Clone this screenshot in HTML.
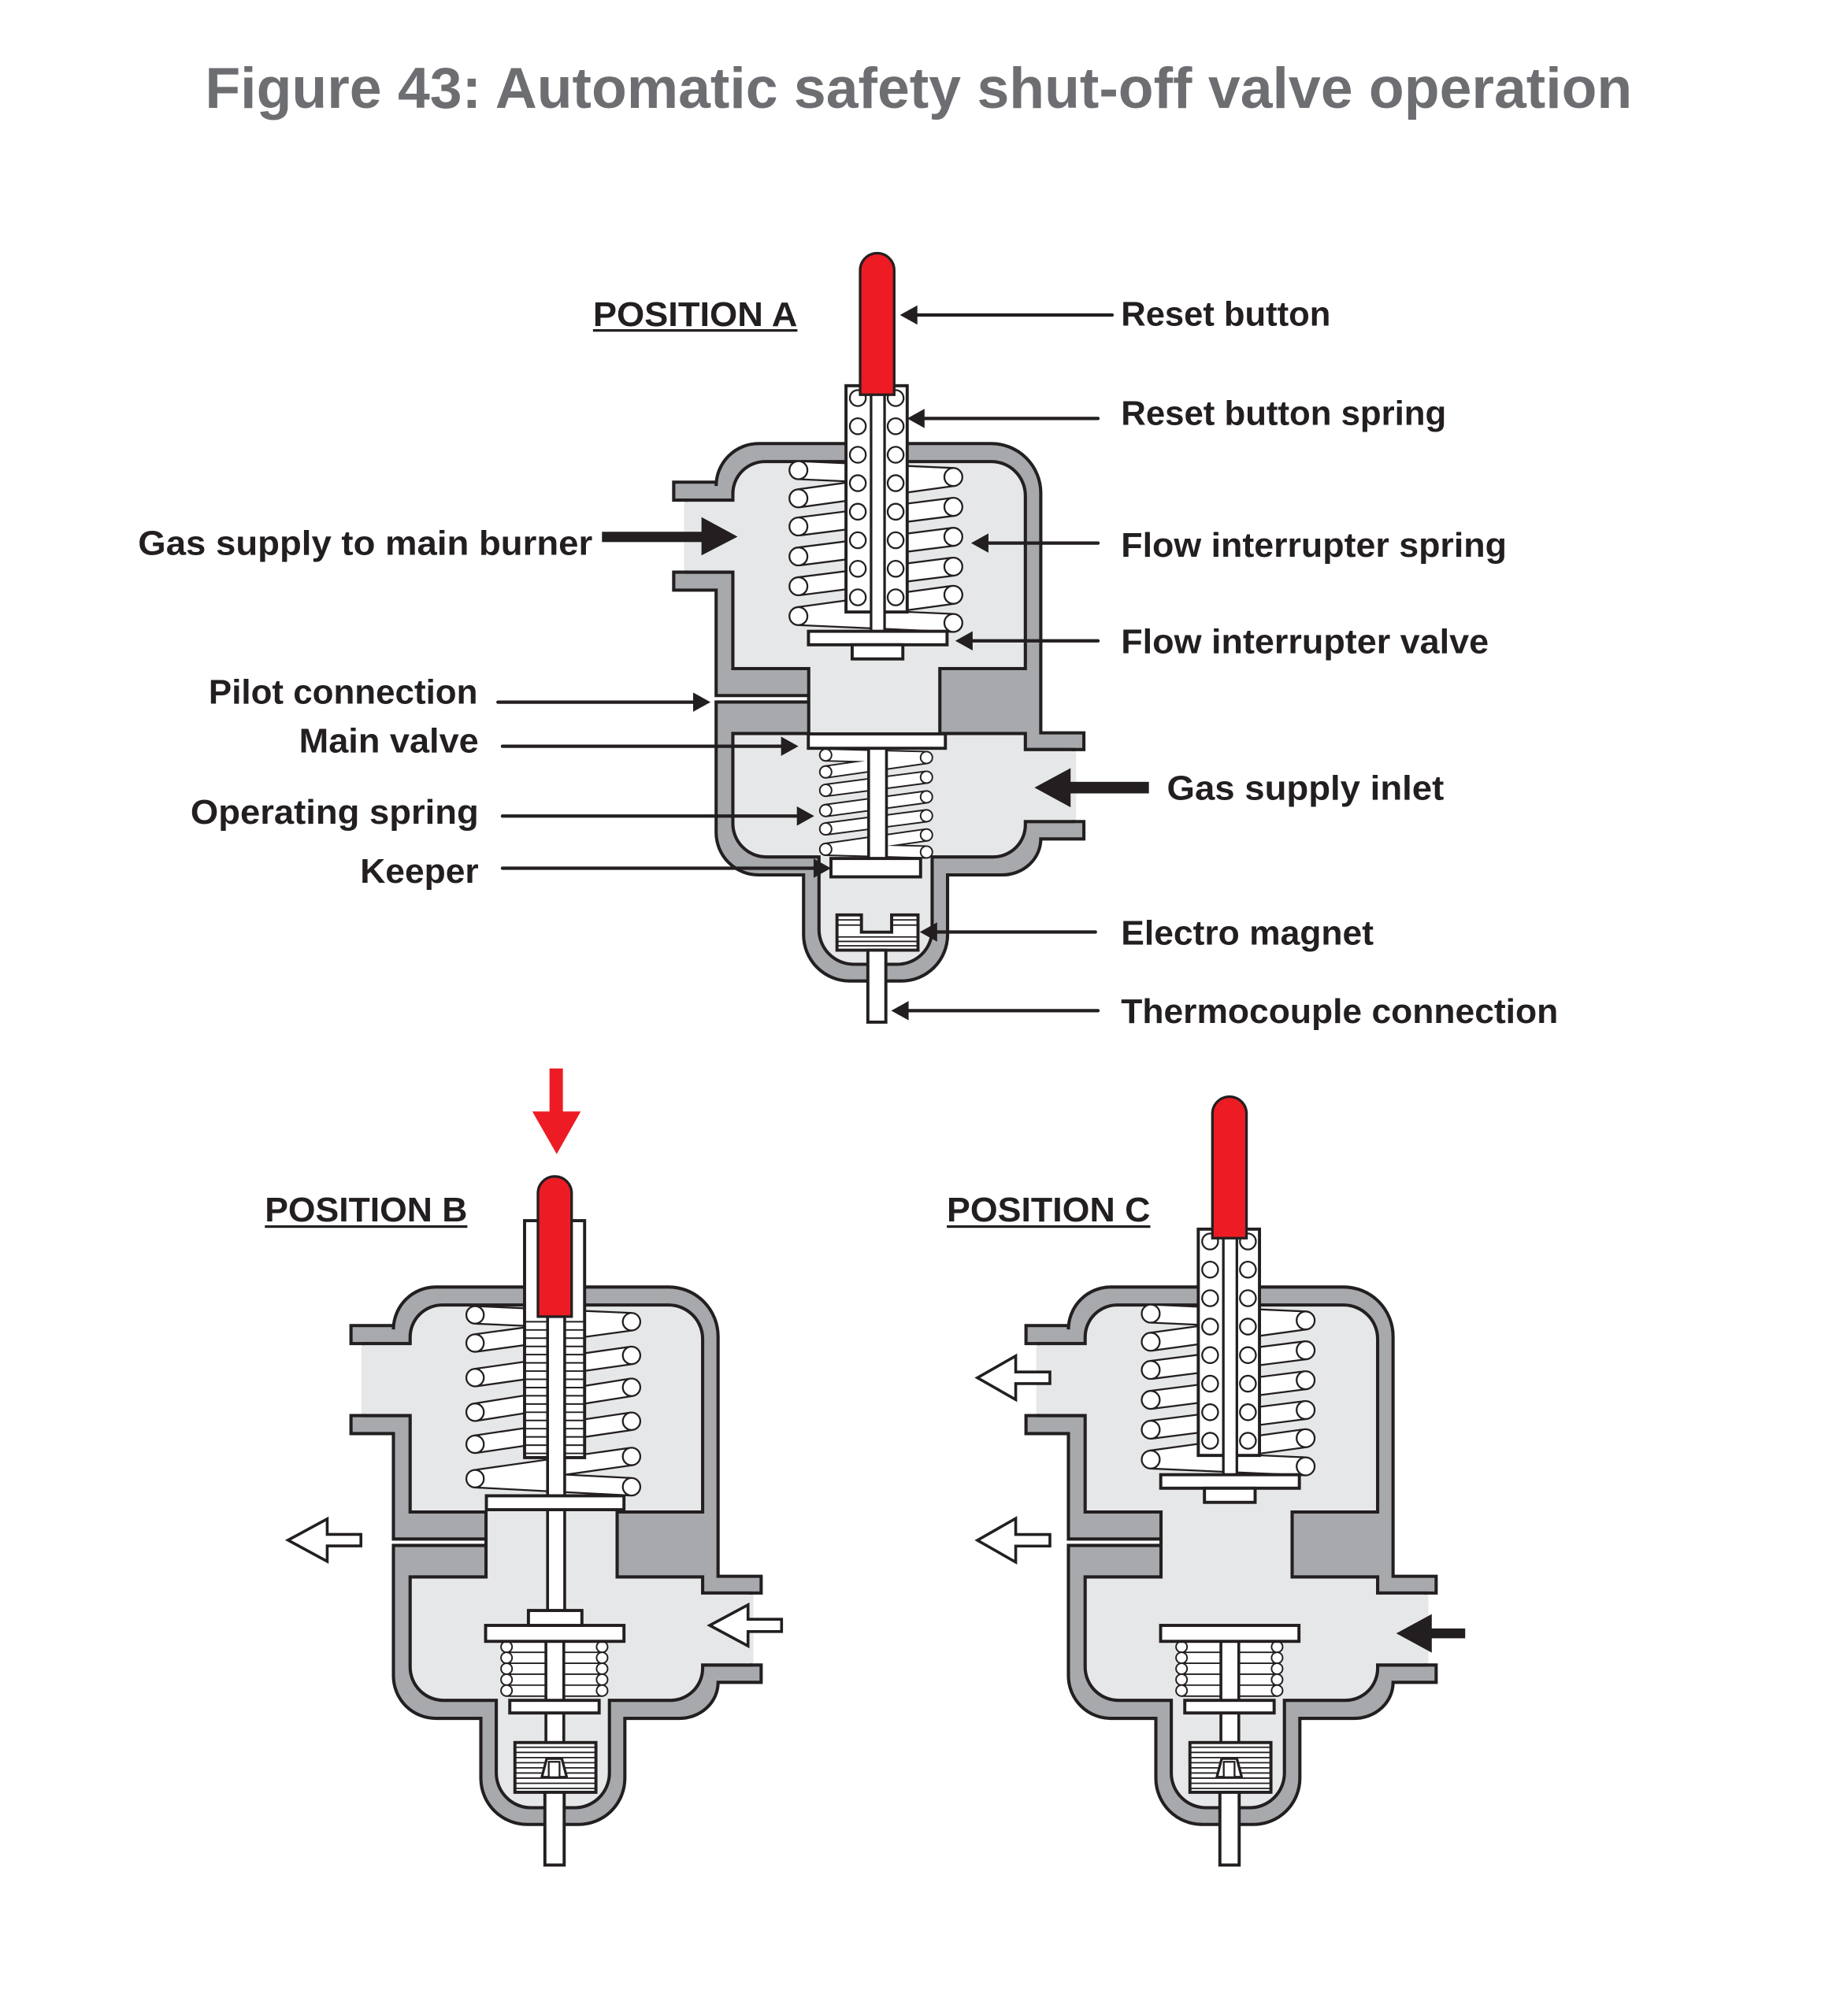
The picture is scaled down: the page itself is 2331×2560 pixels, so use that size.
<!DOCTYPE html>
<html><head><meta charset="utf-8"><style>
html,body{margin:0;padding:0;background:#fff;}
svg{display:block;}
text{font-family:"Liberation Sans",Arial,Helvetica,sans-serif;font-weight:bold;}
</style></head><body>
<svg xmlns="http://www.w3.org/2000/svg" xmlns:xlink="http://www.w3.org/1999/xlink" width="2331" height="2560" viewBox="0 0 1428 1568" preserveAspectRatio="none">
<defs>
<g id="body">
<path d="M524,375 H557 V378 A33,33 0 0 1 590,345 H771 A38.5,38.5 0 0 1 809.5,383.5 V570 H843 V583 H797.5 V639 H843 V652.5 H809.5 A30,28 0 0 1 779.5,680.5 H737 V727 A36,36 0 0 1 701,763 H661 A36,36 0 0 1 625,727 V680.5 H590 A33,33 0 0 1 557,647.5 V546 H629 V541 H557 V459 H524 V445 H570 V389 H524 Z" fill="#a7a9ac" stroke="#231f20" stroke-width="2.5"/>
<path d="M534,389 H570 V384 A25,25 0 0 1 595,359 H771 A26.5,26.5 0 0 1 797.5,385.5 V520 H731 V570.5 H797.5 V583 H835 V639 H797.5 V641.5 A25,25 0 0 1 772.5,666.5 H725 V723 A27,27 0 0 1 698,750 H664 A27,27 0 0 1 637,723 V666.5 H596 A26,26 0 0 1 570,640.5 V570.5 H629 V520 H570 V445 H534 Z" fill="#e6e7e8" stroke="#231f20" stroke-width="2.5"/>
<rect x="532" y="390.3" width="4" height="53.4" fill="#e6e7e8"/>
<rect x="833" y="584.3" width="4" height="53.4" fill="#e6e7e8"/>
</g>

<g id="upA">
<path d="M621,365.7L741.5,371 M621,387.6L741.5,371 M621,409.5L741.5,394.2 M621,432.8L741.5,417.5 M621,456L741.5,440.7 M621,479.2L741.5,462.6 M621,479.2L741.5,484.5" stroke="#231f20" stroke-width="15.4" fill="none"/>
<path d="M621,365.7L741.5,371 M621,387.6L741.5,371 M621,409.5L741.5,394.2 M621,432.8L741.5,417.5 M621,456L741.5,440.7 M621,479.2L741.5,462.6 M621,479.2L741.5,484.5" stroke="#fff" stroke-width="12.6" fill="none"/>
<g fill="#fff" stroke="#231f20" stroke-width="1.4">
<circle cx="621" cy="365.7" r="7"/><circle cx="621" cy="387.6" r="7"/><circle cx="621" cy="409.5" r="7"/><circle cx="621" cy="432.8" r="7"/><circle cx="621" cy="456" r="7"/><circle cx="621" cy="479.2" r="7"/>
<circle cx="741.5" cy="371" r="7"/><circle cx="741.5" cy="394.2" r="7"/><circle cx="741.5" cy="417.5" r="7"/><circle cx="741.5" cy="440.7" r="7"/><circle cx="741.5" cy="462.6" r="7"/><circle cx="741.5" cy="484.5" r="7"/>
</g>
<rect x="658" y="300" width="47.6" height="176" fill="#fff" stroke="#231f20" stroke-width="2.4"/>
<g fill="#fff" stroke="#231f20" stroke-width="1.4">
<circle cx="667.2" cy="309.6" r="6.2"/><circle cx="667.2" cy="331.5" r="6.2"/><circle cx="667.2" cy="353.7" r="6.2"/><circle cx="667.2" cy="375.8" r="6.2"/><circle cx="667.2" cy="398" r="6.2"/><circle cx="667.2" cy="420.2" r="6.2"/><circle cx="667.2" cy="442.4" r="6.2"/><circle cx="667.2" cy="464.6" r="6.2"/>
<circle cx="696.6" cy="309.6" r="6.2"/><circle cx="696.6" cy="331.5" r="6.2"/><circle cx="696.6" cy="353.7" r="6.2"/><circle cx="696.6" cy="375.8" r="6.2"/><circle cx="696.6" cy="398" r="6.2"/><circle cx="696.6" cy="420.2" r="6.2"/><circle cx="696.6" cy="442.4" r="6.2"/><circle cx="696.6" cy="464.6" r="6.2"/>
</g>
<rect x="677.5" y="300" width="10.5" height="191" fill="#fff" stroke="#231f20" stroke-width="2"/>
<path d="M669,307 V210.2 A13.25,13.25 0 0 1 695.5,210.2 V307 Z" fill="#ed1c24" stroke="#231f20" stroke-width="2"/>
<rect x="628.8" y="491" width="107.8" height="10.5" fill="#fff" stroke="#231f20" stroke-width="2.4"/>
<rect x="662.8" y="501.5" width="39.4" height="11" fill="#fff" stroke="#231f20" stroke-width="2.4"/>
</g>

<g id="lowOpen">
<path d="M645,624.9H719.3 M645,633.4H719.3 M645,641.9H719.3 M645,650.4H719.3 M645,658.9H719.3" stroke="#231f20" stroke-width="9.8" fill="none"/>
<path d="M645,624.9H719.3 M645,633.4H719.3 M645,641.9H719.3 M645,650.4H719.3 M645,658.9H719.3" stroke="#fff" stroke-width="7.4" fill="none"/>
<g fill="#fff" stroke="#231f20" stroke-width="1.2">
<circle cx="645" cy="624.9" r="4.3"/><circle cx="645" cy="633.4" r="4.3"/><circle cx="645" cy="641.9" r="4.3"/><circle cx="645" cy="650.4" r="4.3"/><circle cx="645" cy="658.9" r="4.3"/>
<circle cx="719.3" cy="624.9" r="4.3"/><circle cx="719.3" cy="633.4" r="4.3"/><circle cx="719.3" cy="641.9" r="4.3"/><circle cx="719.3" cy="650.4" r="4.3"/><circle cx="719.3" cy="658.9" r="4.3"/>
</g>
<rect x="675.6" y="620.6" width="13.9" height="79" fill="#fff" stroke="#231f20" stroke-width="2.2"/>
<rect x="628.7" y="608.2" width="107.6" height="12.4" fill="#fff" stroke="#231f20" stroke-width="2.4"/>
<rect x="647.5" y="666.5" width="69.5" height="9.8" fill="#fff" stroke="#231f20" stroke-width="2.4"/>
<rect x="651.5" y="699.3" width="63" height="38.7" fill="#fff" stroke="#231f20" stroke-width="2.4"/>
<path d="M651.5,703H714.5 M651.5,707H714.5 M651.5,711H714.5 M651.5,715H714.5 M651.5,719H714.5 M651.5,723H714.5 M651.5,727H714.5 M651.5,731H714.5 M651.5,735H714.5" stroke="#231f20" stroke-width="1.1"/>
<polygon points="672.4,726.3 676.2,711.8 688,711.8 691.8,726.3" fill="#fff" stroke="#231f20" stroke-width="2"/>
<rect x="677.8" y="714.3" width="8.4" height="12" fill="#fff" stroke="#231f20" stroke-width="1.4"/>
<rect x="674.8" y="738" width="15" height="56.6" fill="#fff" stroke="#231f20" stroke-width="2.4"/>
</g>
</defs>

<!-- Title -->
<text x="159.5" y="84" font-size="45" fill="#6d6e71" textLength="1110" lengthAdjust="spacingAndGlyphs">Figure 43: Automatic safety shut-off valve operation</text>

<!-- ================= POSITION A ================= -->
<use href="#body" xlink:href="#body"/>
<use href="#upA" xlink:href="#upA"/>
<!-- lower closed parts -->
<path d="M642.2,587.2L720.6,589.2 M642.2,600.4L720.6,589.2 M642.2,614.7L720.6,604.5 M642.2,630.4L720.6,619.8 M642.2,644.7L720.6,634.5 M642.2,660.6L720.6,649.4 M642.2,660.6L720.6,662.7" stroke="#231f20" stroke-width="10.4" fill="none"/>
<path d="M642.2,587.2L720.6,589.2 M642.2,600.4L720.6,589.2 M642.2,614.7L720.6,604.5 M642.2,630.4L720.6,619.8 M642.2,644.7L720.6,634.5 M642.2,660.6L720.6,649.4 M642.2,660.6L720.6,662.7" stroke="#fff" stroke-width="8" fill="none"/>
<g fill="#fff" stroke="#231f20" stroke-width="1.2">
<circle cx="642.2" cy="587.2" r="4.6"/><circle cx="642.2" cy="600.4" r="4.6"/><circle cx="642.2" cy="614.7" r="4.6"/><circle cx="642.2" cy="630.4" r="4.6"/><circle cx="642.2" cy="644.7" r="4.6"/><circle cx="642.2" cy="660.6" r="4.6"/>
<circle cx="720.6" cy="589.2" r="4.6"/><circle cx="720.6" cy="604.5" r="4.6"/><circle cx="720.6" cy="619.8" r="4.6"/><circle cx="720.6" cy="634.5" r="4.6"/><circle cx="720.6" cy="649.4" r="4.6"/><circle cx="720.6" cy="662.7" r="4.6"/>
</g>
<rect x="675.6" y="582" width="13.9" height="86" fill="#fff" stroke="#231f20" stroke-width="2.2"/>
<rect x="628.7" y="570.8" width="106.6" height="11.2" fill="#fff" stroke="#231f20" stroke-width="2.4"/>
<rect x="646.3" y="667.7" width="69.7" height="14.3" fill="#fff" stroke="#231f20" stroke-width="2.4"/>
<path d="M651,711.6 H670 V725 H693.5 V711.6 H714 V739 H651 Z" fill="#fff" stroke="#231f20" stroke-width="2.4"/>
<path d="M651,715.5H670 M693.5,715.5H714 M651,719.5H670 M693.5,719.5H714 M651,728.7H714 M651,732.2H714 M651,735.6H714" stroke="#231f20" stroke-width="1.1"/>
<rect x="675" y="739" width="14" height="56" fill="#fff" stroke="#231f20" stroke-width="2.4"/>

<!-- Position A labels -->
<text x="461.2" y="253.5" font-size="26.5" fill="#231f20" textLength="159" lengthAdjust="spacingAndGlyphs">POSITION A</text>
<rect x="461.2" y="256" width="159" height="2" fill="#231f20"/>

<text x="107.4" y="431.4" font-size="26.5" fill="#231f20" textLength="353.4" lengthAdjust="spacingAndGlyphs">Gas supply to main burner</text>
<text x="162.3" y="547.4" font-size="26.5" fill="#231f20" textLength="209.2" lengthAdjust="spacingAndGlyphs">Pilot connection</text>
<text x="232.6" y="585.2" font-size="26.5" fill="#231f20" textLength="139.7" lengthAdjust="spacingAndGlyphs">Main valve</text>
<text x="148.2" y="640.7" font-size="26.5" fill="#231f20" textLength="224.1" lengthAdjust="spacingAndGlyphs">Operating spring</text>
<text x="280.1" y="686.7" font-size="26.5" fill="#231f20" textLength="92.2" lengthAdjust="spacingAndGlyphs">Keeper</text>

<text x="871.9" y="253.3" font-size="26.5" fill="#231f20" textLength="163" lengthAdjust="spacingAndGlyphs">Reset button</text>
<text x="871.9" y="330.3" font-size="26.5" fill="#231f20" textLength="253" lengthAdjust="spacingAndGlyphs">Reset button spring</text>
<text x="871.9" y="433" font-size="26.5" fill="#231f20" textLength="300" lengthAdjust="spacingAndGlyphs">Flow interrupter spring</text>
<text x="871.9" y="508.2" font-size="26.5" fill="#231f20" textLength="286" lengthAdjust="spacingAndGlyphs">Flow interrupter valve</text>
<text x="907.6" y="621.9" font-size="26.5" fill="#231f20" textLength="215.5" lengthAdjust="spacingAndGlyphs">Gas supply inlet</text>
<text x="871.9" y="734.8" font-size="26.5" fill="#231f20" textLength="196.5" lengthAdjust="spacingAndGlyphs">Electro magnet</text>
<text x="871.9" y="795.5" font-size="26.5" fill="#231f20" textLength="340" lengthAdjust="spacingAndGlyphs">Thermocouple connection</text>

<!-- leaders -->
<g stroke="#231f20" stroke-width="2.6" stroke-linecap="round" fill="none">
<path d="M865,245H711"/>
<path d="M854,325.5H716"/>
<path d="M854,422.4H766"/>
<path d="M854,498.4H754"/>
<path d="M852,724.9H726"/>
<path d="M854,786.1H704"/>
<path d="M387.3,546.1H541"/>
<path d="M390.8,580.4H610"/>
<path d="M390.8,634.7H622"/>
<path d="M390.8,675.3H635"/>
</g>
<g fill="#231f20">
<polygon points="700,245 713.5,237.5 713.5,252.5"/>
<polygon points="705.6,325.5 719.1,318 719.1,333"/>
<polygon points="755.3,422.4 768.8,414.9 768.8,429.9"/>
<polygon points="743,498.4 756.5,490.9 756.5,505.9"/>
<polygon points="715.4,724.9 728.9,717.4 728.9,732.4"/>
<polygon points="693.2,786.1 706.7,778.6 706.7,793.6"/>
<polygon points="552.6,546.1 539.1,538.6 539.1,553.6"/>
<polygon points="621,580.4 607.5,572.9 607.5,587.9"/>
<polygon points="633.3,634.7 619.8,627.2 619.8,642.2"/>
<polygon points="646.3,675.3 632.8,667.8 632.8,682.8"/>
<!-- thick arrows -->
<rect x="468.2" y="413.6" width="79" height="8"/>
<polygon points="545.6,402.2 573.7,417.4 545.6,432"/>
<rect x="830" y="608.1" width="63.6" height="9"/>
<polygon points="804.6,612.6 832.7,597.4 832.7,627.9"/>
</g>

<!-- ================= POSITION B ================= -->
<g transform="translate(-251,656)">
<use href="#body" xlink:href="#body"/>
<use href="#lowOpen" xlink:href="#lowOpen"/>
</g>
<path d="M369.5,1022.7L491.2,1028 M369.5,1044.6L491.2,1028 M369.5,1071.5L491.2,1054.2 M369.5,1098.4L491.2,1079 M369.5,1123.3L491.2,1105.4 M369.5,1150.1L491.2,1132.8 M369.5,1150.1L491.2,1156.4" stroke="#231f20" stroke-width="15" fill="none"/>
<path d="M369.5,1022.7L491.2,1028 M369.5,1044.6L491.2,1028 M369.5,1071.5L491.2,1054.2 M369.5,1098.4L491.2,1079 M369.5,1123.3L491.2,1105.4 M369.5,1150.1L491.2,1132.8 M369.5,1150.1L491.2,1156.4" stroke="#fff" stroke-width="12.2" fill="none"/>
<g fill="#fff" stroke="#231f20" stroke-width="1.4">
<circle cx="369.5" cy="1022.7" r="6.8"/><circle cx="369.5" cy="1044.6" r="6.8"/><circle cx="369.5" cy="1071.5" r="6.8"/><circle cx="369.5" cy="1098.4" r="6.8"/><circle cx="369.5" cy="1123.3" r="6.8"/><circle cx="369.5" cy="1150.1" r="6.8"/>
<circle cx="491.2" cy="1028" r="6.8"/><circle cx="491.2" cy="1054.2" r="6.8"/><circle cx="491.2" cy="1079" r="6.8"/><circle cx="491.2" cy="1105.4" r="6.8"/><circle cx="491.2" cy="1132.8" r="6.8"/><circle cx="491.2" cy="1156.4" r="6.8"/>
</g>
<rect x="408" y="949.4" width="46.7" height="184.3" fill="#fff" stroke="#231f20" stroke-width="2.4"/>
<path d="M408,1028H426 M439.2,1028H454.7 M408,1034.4H426 M439.2,1034.4H454.7 M408,1040.8H426 M439.2,1040.8H454.7 M408,1047.2H426 M439.2,1047.2H454.7 M408,1053.6H426 M439.2,1053.6H454.7 M408,1060H426 M439.2,1060H454.7 M408,1066.4H426 M439.2,1066.4H454.7 M408,1072.8H426 M439.2,1072.8H454.7 M408,1079.2H426 M439.2,1079.2H454.7 M408,1085.6H426 M439.2,1085.6H454.7 M408,1092H426 M439.2,1092H454.7 M408,1098.4H426 M439.2,1098.4H454.7 M408,1104.8H426 M439.2,1104.8H454.7 M408,1111.2H426 M439.2,1111.2H454.7 M408,1117.6H426 M439.2,1117.6H454.7 M408,1124H426 M439.2,1124H454.7 M408,1130.4H426 M439.2,1130.4H454.7" stroke="#231f20" stroke-width="1.2"/>
<rect x="425.9" y="1024" width="13.3" height="230" fill="#fff" stroke="#231f20" stroke-width="2.2"/>
<rect x="378.3" y="1163.4" width="107" height="10.8" fill="#fff" stroke="#231f20" stroke-width="2.4"/>
<rect x="411" y="1252.6" width="41.6" height="11.6" fill="#fff" stroke="#231f20" stroke-width="2.4"/>
<path d="M418.4,1024 V928.1 A13.1,13.1 0 0 1 444.6,928.1 V1024 Z" fill="#ed1c24" stroke="#231f20" stroke-width="2"/>
<polygon points="427.4,831 437.8,831 437.8,864.5 451.7,864.5 433,897.6 414,864.5 427.4,864.5" fill="#ed1c24"/>
<text x="206" y="950" font-size="26.5" fill="#231f20" textLength="157.5" lengthAdjust="spacingAndGlyphs">POSITION B</text>
<rect x="206" y="953" width="157.5" height="2" fill="#231f20"/>
<g fill="#fff" stroke="#231f20" stroke-width="2.2" stroke-linejoin="miter">
<polygon points="224,1197.9 254.5,1181.4 254.5,1193.4 280.7,1193.4 280.7,1202.4 254.5,1202.4 254.5,1214.4"/>
<polygon points="552,1264.2 581.8,1248.2 581.8,1259.4 607.9,1259.4 607.9,1269 581.8,1269 581.8,1280.2"/>
</g>

<!-- ================= POSITION C ================= -->
<g transform="translate(274,656)">
<use href="#body" xlink:href="#body"/>
<use href="#upA" xlink:href="#upA"/>
<use href="#lowOpen" xlink:href="#lowOpen"/>
</g>
<text x="736.4" y="950" font-size="26.5" fill="#231f20" textLength="158.3" lengthAdjust="spacingAndGlyphs">POSITION C</text>
<rect x="736.4" y="953" width="158.3" height="2" fill="#231f20"/>
<g fill="#fff" stroke="#231f20" stroke-width="2.2">
<polygon points="760.2,1071.6 790,1054.6 790,1067.1 816.6,1067.1 816.6,1076.1 790,1076.1 790,1088.6"/>
<polygon points="760.2,1198 790,1181 790,1193.5 816.6,1193.5 816.6,1202.5 790,1202.5 790,1215"/>
</g>
<polygon points="1086,1270.4 1113.6,1255.4 1113.6,1266.6 1139.6,1266.6 1139.6,1274.2 1113.6,1274.2 1113.6,1285.4" fill="#231f20"/>
</svg>
</body></html>
